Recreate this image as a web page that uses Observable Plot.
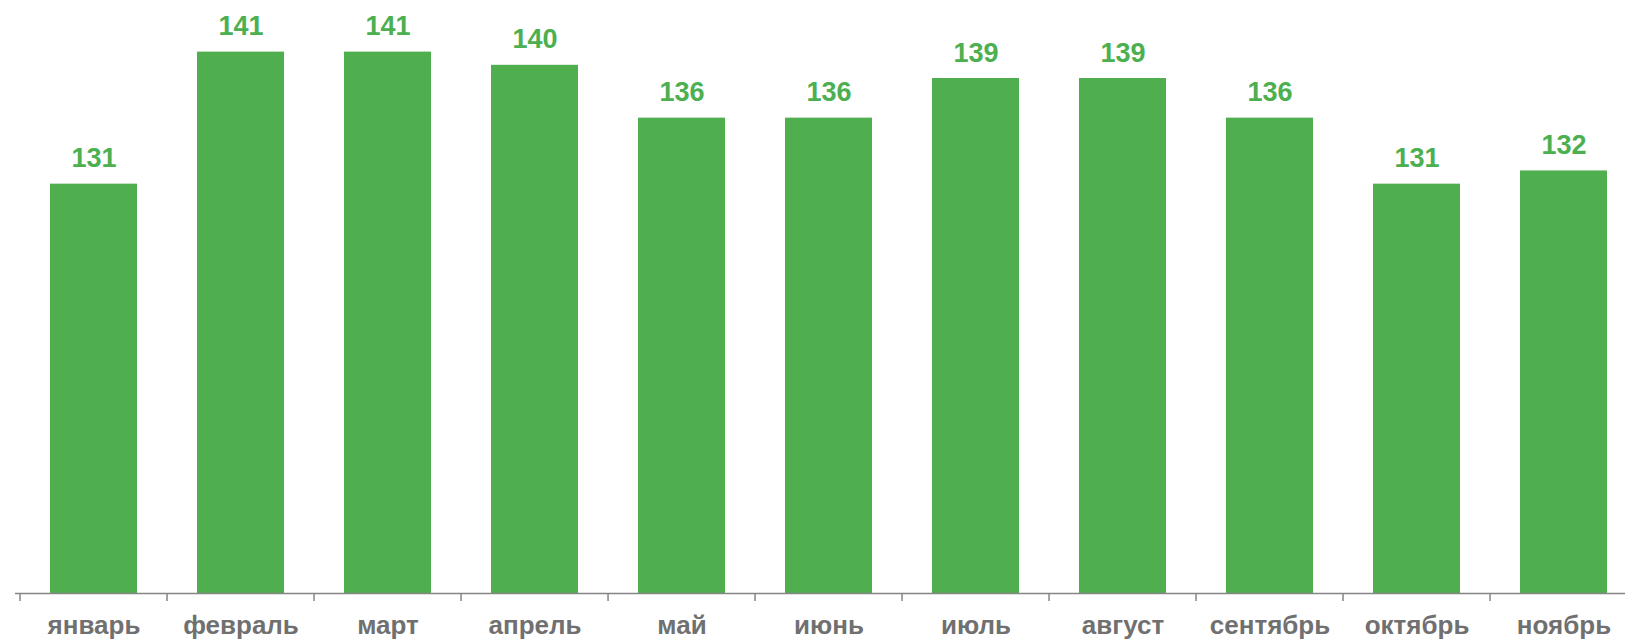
<!DOCTYPE html>
<html>
<head>
<meta charset="utf-8">
<script src="https://cdn.jsdelivr.net/npm/d3@7"></script>
<script src="https://cdn.jsdelivr.net/npm/@observablehq/plot@0.6"></script>
<style>
  html, body { margin: 0; padding: 0; background: #fff; }
  #chart { width: 1625px; height: 640px; overflow: hidden; }
</style>
</head>
<body>
<div id="chart"></div>
<script>
const months = ["январь", "февраль", "март", "апрель", "май", "июнь", "июль", "август", "сентябрь", "октябрь", "ноябрь"];
const values = [131, 141, 141, 140, 136, 136, 139, 139, 136, 131, 132];

const data = months.map((m, i) => ({month: m, value: values[i]}));

const xRange = [15, 1642];
const halfStep = (xRange[1] - xRange[0]) / months.length / 2;
const green = "#4FAE4E";
const font = "'Liberation Sans', Arial, Helvetica, sans-serif";

const chart = Plot.plot({
  width: 1625,
  height: 640,
  marginTop: 12,
  marginBottom: 47,
  marginLeft: 15,
  marginRight: 0,
  style: {fontFamily: font, background: "#fff"},
  x: {type: "band", domain: months, range: xRange, paddingInner: 0.408, paddingOuter: 0.204, label: null},
  y: {domain: [100, 144], label: null, axis: null},
  marks: [
    Plot.barY(data, {x: "month", y1: 100, y2: "value", fill: green}),
    Plot.ruleY([100], {stroke: "#858585", strokeWidth: 1.6}),
    Plot.ruleX(months, {x: d => d, dx: -halfStep, y1: 100, y2: 100, insetBottom: -8, stroke: "#858585", strokeWidth: 1.5}),
    Plot.axisX({tickSize: 0, tickPadding: 22, fontSize: 26, fontWeight: "bold", color: "#707070", fontFamily: font}),
    Plot.text(data, {x: "month", y: "value", text: d => String(d.value), lineAnchor: "bottom", dy: -17, fontSize: 27, fontWeight: "bold", fill: "#4CAF50", fontFamily: font})
  ]
});
document.getElementById("chart").append(chart);
</script>
</body>
</html>
